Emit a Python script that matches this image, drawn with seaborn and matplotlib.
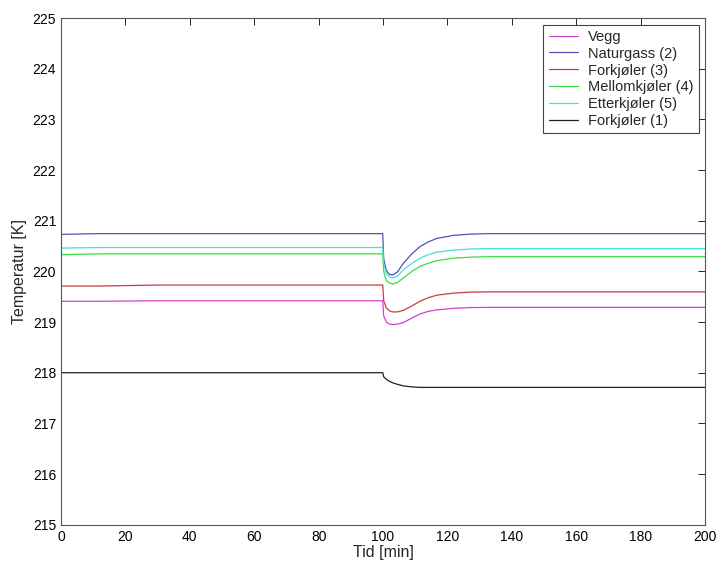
import numpy as np
import pandas as pd
import matplotlib
matplotlib.use("Agg")
import matplotlib.pyplot as plt
import seaborn as sns

# tid [min]
tid = [0, 12, 30, 99.9, 100.2, 101, 102, 103, 104.5, 106.3, 109, 111.5, 114, 116.7, 121.8, 127, 133, 200]

# temperaturer [K], lest av figuren
vegg = [219.41, 219.41, 219.42, 219.42, 219.12, 219.00, 218.96, 218.95, 218.96, 218.99, 219.08, 219.16, 219.21, 219.24, 219.27, 219.285, 219.29, 219.29]
naturgass = [220.73, 220.745, 220.745, 220.745, 220.25, 220.02, 219.94, 219.93, 219.99, 220.16, 220.35, 220.49, 220.58, 220.65, 220.71, 220.735, 220.745, 220.745]
forkjoler3 = [219.71, 219.71, 219.73, 219.73, 219.42, 219.28, 219.22, 219.20, 219.20, 219.23, 219.32, 219.41, 219.48, 219.53, 219.57, 219.59, 219.595, 219.595]
mellomkjoler = [220.33, 220.345, 220.345, 220.345, 220.00, 219.82, 219.77, 219.75, 219.78, 219.87, 220.00, 220.10, 220.16, 220.21, 220.26, 220.28, 220.29, 220.29]
etterkjoler = [220.46, 220.47, 220.47, 220.47, 220.15, 219.96, 219.89, 219.87, 219.91, 220.03, 220.16, 220.26, 220.33, 220.38, 220.42, 220.44, 220.45, 220.45]
forkjoler1 = [218.0, 218.0, 218.0, 218.0, 217.92, 217.87, 217.83, 217.80, 217.77, 217.74, 217.72, 217.71, 217.71, 217.71, 217.71, 217.71, 217.71, 217.71]

navn = ["Vegg", "Naturgass (2)", "Forkjøler (3)", "Mellomkjøler (4)", "Etterkjøler (5)", "Forkjøler (1)"]
farger = ["#d040d0", "#5050b8", "#d03848", "#40d840", "#40e0e0", "#202020"]

serier = [vegg, naturgass, forkjoler3, mellomkjoler, etterkjoler, forkjoler1]
df = pd.concat([pd.DataFrame({"Tid": tid, "Temp": s, "Serie": n}) for n, s in zip(navn, serier)])

sns.set_style("white")
plt.rcParams["font.family"] = ["Liberation Sans", "DejaVu Sans"]

fig = plt.figure(figsize=(7.18, 5.63), dpi=100)
ax = fig.add_axes([0.085, 0.068, 0.897, 0.9])

sns.lineplot(data=df, x="Tid", y="Temp", hue="Serie", hue_order=navn, palette=farger,
             linewidth=0.9, ax=ax, sort=False, estimator=None)

ax.set_xlim(0, 200)
ax.set_ylim(215, 225)
ax.set_xticks(range(0, 201, 20))
ax.set_yticks(range(215, 226, 1))
ax.tick_params(direction="in", top=True, right=True, labelsize=10, length=5, width=0.6, colors="black")
for sp in ax.spines.values():
    sp.set_color("#555555")
    sp.set_linewidth(0.8)
ax.set_xlabel("Tid [min]", fontsize=11.5, labelpad=1)
ax.set_ylabel("Temperatur [K]", fontsize=11.5, labelpad=4)

leg = ax.legend(loc="upper right", fontsize=10.5, frameon=True, fancybox=False,
                edgecolor="#444444", framealpha=1, borderaxespad=0.45,
                handlelength=2.0, handletextpad=0.7, labelspacing=0.2, borderpad=0.35)
leg.get_frame().set_linewidth(0.8)

fig.savefig("out.png", dpi=100)
